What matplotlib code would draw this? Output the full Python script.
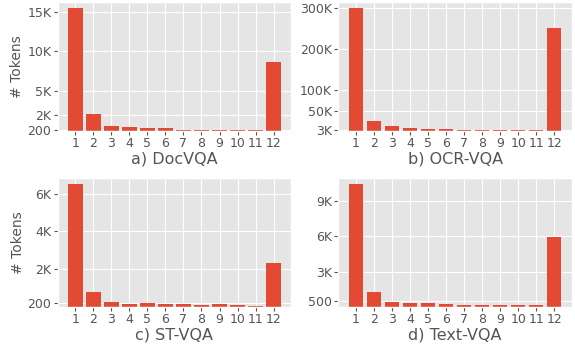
import numpy as np
import matplotlib
matplotlib.use("Agg")
import matplotlib.pyplot as plt

plt.style.use("ggplot")

positions = list(range(1, 13))

docvqa = [15470, 2090, 610, 490, 450, 410, 160, 200, 200, 160, 120, 8640]
ocrvqa = [299400, 23700, 13400, 7800, 6200, 5400, 3000, 3000, 3000, 3000, 2200, 250000]
stvqa = [6510, 790, 270, 150, 220, 180, 170, 130, 170, 110, 80, 2320]
textvqa = [10440, 1280, 420, 330, 390, 280, 220, 160, 220, 220, 140, 5950]

panels = [
    ("a) DocVQA", docvqa, [200, 2000, 5000, 10000, 15000], ["200", "2K", "5K", "10K", "15K"]),
    ("b) OCR-VQA", ocrvqa, [3000, 50000, 100000, 200000, 300000], ["3K", "50K", "100K", "200K", "300K"]),
    ("c) ST-VQA", stvqa, [200, 2000, 4000, 6000], ["200", "2K", "4K", "6K"]),
    ("d) Text-VQA", textvqa, [500, 3000, 6000, 9000], ["500", "3K", "6K", "9K"]),
]

fig, axes = plt.subplots(2, 2, figsize=(5.75, 3.49), dpi=100)
fig.subplots_adjust(left=0.1, right=0.995, top=0.995, bottom=0.12, wspace=0.2, hspace=0.36)

for ax, (name, vals, ticks, labels) in zip(axes.flat, panels):
    ax.bar(positions, vals, width=0.8, color="#E24A33")
    ax.set_xticks(positions)
    ax.set_xticklabels([str(p) for p in positions], fontsize=9)
    ax.set_yticks(ticks)
    ax.set_yticklabels(labels, fontsize=9)
    ax.tick_params(axis="both", pad=1.5, length=3)
    ax.set_xlabel(name, fontsize=11.5, labelpad=1)

axes[0, 0].set_ylabel("# Tokens", fontsize=10, labelpad=2)
axes[1, 0].set_ylabel("# Tokens", fontsize=10, labelpad=2)

plt.savefig("out.png", dpi=100)
